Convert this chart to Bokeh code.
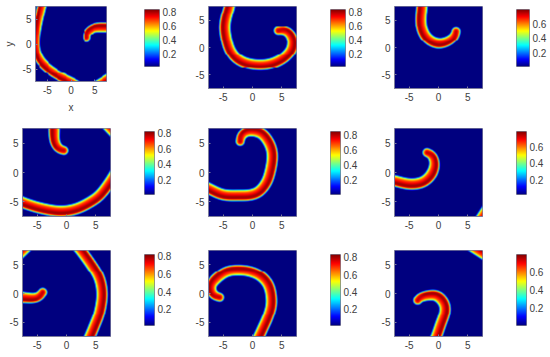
import numpy as np
from bokeh.plotting import figure
from bokeh.layouts import row, column
from bokeh.models import Range1d, LinearColorMapper, FixedTicker
from bokeh.embed import file_html
from bokeh.resources import INLINE

# Wave centrelines, tail to tip, front on the right of travel
P1_A_X = [-6.0, -6.2, -6.7, -7.2, -7.5, -6.9, -5.5, -3.1, -0.6, 1.0]
P1_A_Y = [8.5, 7.5, 5.4, 2.9, 0.0, -2.5, -4.3, -6.05, -7.3, -8.1]
P1_B_X = [3.7, 6.5, 9.3]
P1_B_Y = [-9.4, -7.7, -6.0]
P1_C_X = [8.9, 7.5, 5.4, 4.2, 3.3, 3.3]
P1_C_Y = [3.3, 3.3, 3.3, 2.9, 2.0, 1.2]
P2_A_X = [-3.8, -3.9, -4.6, -4.67, -3.9, -2.4, -0.15, 2.7, 5.1, 6.6, 6.9, 6.5, 5.5, 4.4]
P2_A_Y = [8.5, 7.5, 5.0, 2.8, -0.35, -2.2, -3.06, -3.06, -2.05, -0.5, 1.0, 2.3, 3.1, 3.06]
P3_A_X = [-2.8, -2.8, -3.0, -2.7, -1.7, 0.0, 1.7, 2.8, 3.0]
P3_A_Y = [8.5, 7.5, 5.0, 3.0, 1.5, 0.75, 1.2, 2.1, 2.9]
P4_A_X = [-2.1, -2.1, -2.05, -1.6, -0.9, -0.45]
P4_A_Y = [8.5, 7.5, 5.5, 4.4, 3.8, 3.75]
P4_B_X = [-8.5, -7.5, -4.5, -1.1, 1.8, 4.6, 6.0, 7.5, 8.5]
P4_B_Y = [-4.6, -5.1, -6.05, -6.6, -6.15, -4.7, -3.5, -1.45, 0.2]
P4_C_X = [9.4, 7.6, 5.8]
P4_C_Y = [5.5, 7.4, 9.3]
P5_A_X = [-8.5, -7.5, -5.0, -2.1, -0.5, 1.0, 2.2, 2.9, 3.4, 3.0, 1.6, -0.15, -1.3, -2.0, -2.1]
P5_A_Y = [-2.2, -2.7, -3.8, -3.9, -3.85, -3.35, -2.0, -0.3, 2.6, 4.7, 6.65, 7.1, 6.85, 6.1, 5.3]
P6_A_X = [-8.5, -7.5, -5.5, -3.95, -2.4, -1.1, -0.65, -1.1, -1.95]
P6_A_Y = [-1.2, -1.4, -1.9, -1.95, -1.5, -0.15, 1.55, 2.95, 3.4]
P6_B_X = [6.6, 7.7, 8.8]
P6_B_Y = [-8.9, -7.2, -5.5]
P7_A_X = [-8.5, -7.5, -5.6, -4.6, -4.05]
P7_A_Y = [-0.6, -0.65, -0.8, -0.5, 0.2]
P7_B_X = [3.3, 4.0, 4.9, 5.6, 6.08, 5.6, 4.3, 2.45, 1.7]
P7_B_Y = [-9.0, -7.5, -5.3, -3.4, -0.2, 2.65, 4.9, 7.5, 8.4]
P7_C_X = [-5.6, -7.45, -9.3]
P7_C_Y = [9.3, 7.5, 5.7]
P8_A_X = [0.4, 1.1, 1.85, 2.7, 3.25, 2.85, 1.55, -0.15, -2.1, -4.4, -6.4, -7.1, -6.7, -5.6]
P8_A_Y = [-8.9, -7.5, -5.85, -3.9, -1.6, 1.2, 2.9, 3.75, 4.05, 3.8, 2.35, 1.2, -0.2, -0.65]
P9_A_X = [-1.0, -0.35, 0.4, 1.1, 1.0, -0.25, -1.95, -3.3, -3.55]
P9_A_Y = [-8.9, -7.5, -5.3, -3.3, -1.75, -0.37, -0.37, -0.75, -1.15]
P9_B_X = [8.85, 6.9, 4.95]
P9_B_Y = [6.2, 7.45, 8.7]

# Colour bar ranges and ticks
CBAR_LOW = [0.012, 0.012, 0.018, 0.016, 0.015, 0.02, 0.016, 0.015, 0.01]
CBAR_HIGH = [0.84, 0.84, 0.79, 0.82, 0.84, 0.79, 0.82, 0.83, 0.80]
TICKS_LONG = [0.2, 0.4, 0.6, 0.8]
TICKS_SHORT = [0.2, 0.4, 0.6]
XY_TICKS = [-5, 0, 5]

# Wave cross-section: distance from centreline (front positive) vs share of the peak
PROFILE_D = [-1.15, -1.02, -0.92, -0.8, -0.5, -0.1, 0.3, 0.6, 0.78, 0.92, 1.02, 1.15]
PROFILE_V = [0.0, 0.08, 0.35, 0.58, 0.8, 0.9, 1.0, 0.95, 0.75, 0.4, 0.1, 0.0]
SYM_D = [-1.15, -1.02, -0.9, -0.7, -0.3, 0.0, 0.3, 0.7, 0.9, 1.02, 1.15]
SYM_V = [0.0, 0.08, 0.38, 0.74, 0.92, 0.96, 0.92, 0.74, 0.38, 0.08, 0.0]

PANELS = [
    [(P1_A_X, P1_A_Y), (P1_B_X, P1_B_Y), (P1_C_X, P1_C_Y)],
    [(P2_A_X, P2_A_Y)],
    [(P3_A_X, P3_A_Y)],
    [(P4_A_X, P4_A_Y), (P4_B_X, P4_B_Y), (P4_C_X, P4_C_Y)],
    [(P5_A_X, P5_A_Y)],
    [(P6_A_X, P6_A_Y), (P6_B_X, P6_B_Y)],
    [(P7_A_X, P7_A_Y), (P7_B_X, P7_B_Y), (P7_C_X, P7_C_Y)],
    [(P8_A_X, P8_A_Y)],
    [(P9_A_X, P9_A_Y), (P9_B_X, P9_B_Y)],
]

INK = "#404040"
EDGE = "#7c7c9c"
FONT = "Liberation Sans"


def jet():
    out = []
    for i in range(256):
        t = i / 255
        r = np.clip(min(4 * t - 1.5, -4 * t + 4.5), 0, 1)
        g = np.clip(min(4 * t - 0.5, -4 * t + 3.5), 0, 1)
        b = np.clip(min(4 * t + 0.5, -4 * t + 2.5), 0, 1)
        out.append("#%02x%02x%02x" % (int(r * 255), int(g * 255), int(b * 255)))
    return out


JET = jet()


def smooth(xs, ys, steps=8, sigma=0.55, ds=0.08):
    p = np.column_stack([xs, ys]).astype(float)
    p = np.vstack([2 * p[0] - p[1], p, 2 * p[-1] - p[-2]])
    out = [p[1]]
    for i in range(1, len(p) - 2):
        p0, p1, p2, p3 = p[i - 1], p[i], p[i + 1], p[i + 2]
        for s in np.linspace(0, 1, steps + 1)[1:]:
            out.append(0.5 * (2 * p1 + (p2 - p0) * s + (2 * p0 - 5 * p1 + 4 * p2 - p3) * s ** 2
                              + (3 * p1 - p0 - 3 * p2 + p3) * s ** 3))
    out = np.array(out)
    arc = np.concatenate([[0.0], np.cumsum(np.hypot(*np.diff(out, axis=0).T))])
    u = np.arange(0, arc[-1], ds)
    u = np.append(u, arc[-1])
    res = np.column_stack([np.interp(u, arc, out[:, 0]), np.interp(u, arc, out[:, 1])])
    m = int(3 * sigma / ds)
    kern = np.exp(-0.5 * (np.arange(-m, m + 1) * ds / sigma) ** 2)
    kern /= kern.sum()
    pad_a = 2 * res[0] - res[1:m + 1][::-1]
    pad_b = 2 * res[-1] - res[-m - 1:-1][::-1]
    full = np.vstack([pad_a, res, pad_b])
    return np.column_stack([np.convolve(full[:, j], kern, mode="valid") for j in (0, 1)])


def curve_field(xs, ys, gx, gy):
    tipped = abs(xs[-1]) < 7.5 and abs(ys[-1]) < 7.5
    pts = smooth(xs, ys)
    a, b = pts[:-1], pts[1:]
    seg = b - a
    ln = np.maximum(np.hypot(seg[:, 0], seg[:, 1]), 1e-6)
    remain = np.concatenate([np.cumsum(ln[::-1])[::-1][1:], [0.0]])
    best = np.full(gx.shape, np.inf)
    sign = np.zeros(gx.shape)
    s_tip = np.zeros(gx.shape)
    past = np.zeros(gx.shape, dtype=bool)
    for k in range(len(a)):
        px, py = gx - a[k, 0], gy - a[k, 1]
        t = (px * seg[k, 0] + py * seg[k, 1]) / ln[k] ** 2
        tc = np.clip(t, 0, 1)
        dist = np.hypot(px - tc * seg[k, 0], py - tc * seg[k, 1])
        hit = dist < best
        best[hit] = dist[hit]
        cross = seg[k, 0] * py - seg[k, 1] * px
        sign[hit] = np.where(cross[hit] > 0, -1.0, 1.0)
        s_tip[hit] = remain[k] + (1 - tc[hit]) * ln[k]
        past[hit] = (k == len(a) - 1) & (t[hit] > 1)
    d = best * sign
    if tipped:
        taper = 0.8 + 0.2 * np.minimum(1, s_tip / 4)
        w = np.where(past, 1.0, np.clip(1 - s_tip / 1.5, 0, 1))
        d = d / taper
        return (1 - w) * np.interp(d, PROFILE_D, PROFILE_V) + w * np.interp(d, SYM_D, SYM_V)
    return np.interp(d, PROFILE_D, PROFILE_V)


def panel_field(curves, low, high, n):
    step = 15 / n
    c = np.linspace(-7.5 + step / 4, 7.5 - step / 4, 2 * n)
    gx, gy = np.meshgrid(c, c)
    f = np.zeros(gx.shape)
    for xs, ys in curves:
        f = np.maximum(f, curve_field(xs, ys, gx, gy))
    f = f.reshape(n, 2, n, 2).mean(axis=(1, 3))
    return low + f * (high - low) * 0.98 - 0.02 * (f == 0)


def style_axis(ax):
    ax.axis_line_color = EDGE
    ax.major_tick_line_color = EDGE
    ax.major_tick_in = 2
    ax.major_tick_out = 0
    ax.minor_tick_line_color = None
    ax.major_label_text_color = INK
    ax.major_label_text_font = FONT
    ax.major_label_text_font_size = "10px"


def heat(i, w, h, left, top, fw, mx=0, labels=False):
    low, high = CBAR_LOW[i], CBAR_HIGH[i]
    p = figure(width=w, height=h, min_border_left=left, min_border_right=w - left - fw,
               min_border_top=top, min_border_bottom=h - top - fw,
               x_range=Range1d(-7.5, 7.5), y_range=Range1d(-7.5, 7.5),
               output_backend="svg", toolbar_location=None, margin=(0, 0, 0, mx))
    mapper = LinearColorMapper(palette=JET, low=low, high=high, low_color=JET[0], high_color=JET[-1])
    p.image(image=[panel_field(PANELS[i], low, high, fw)], x=-7.5, y=-7.5, dw=15, dh=15, color_mapper=mapper)
    p.grid.visible = False
    p.outline_line_color = EDGE
    for ax in (p.xaxis[0], p.yaxis[0]):
        style_axis(ax)
        ax.ticker = FixedTicker(ticks=XY_TICKS)
        ax.major_label_overrides = {-5: "-5", 0: "0", 5: "5"}
        ax.major_label_standoff = 4
    if labels:
        p.xaxis[0].axis_label = "x"
        p.yaxis[0].axis_label = "y"
        for ax in (p.xaxis[0], p.yaxis[0]):
            ax.axis_label_text_color = INK
            ax.axis_label_text_font = FONT
            ax.axis_label_text_font_size = "10px"
            ax.axis_label_text_font_style = "normal"
            ax.axis_label_standoff = 5
    return p


def cbar(i, w, left, fw, my=3):
    low, high = CBAR_LOW[i], CBAR_HIGH[i]
    fh, top, bottom = 71, 6, 20
    p = figure(width=w, height=fh + top + bottom, min_border_left=left, min_border_right=w - left - fw,
               min_border_top=top, min_border_bottom=bottom,
               x_range=Range1d(0, 1), y_range=Range1d(low, high),
               y_axis_location="right", output_backend="svg", toolbar_location=None,
               margin=(my, 0, 0, 0))
    mapper = LinearColorMapper(palette=JET, low=low, high=high)
    grad = np.linspace(low, high, 256).reshape(256, 1)
    p.image(image=[grad], x=0, y=low, dw=1, dh=high - low, color_mapper=mapper)
    p.grid.visible = False
    p.xaxis.visible = False
    p.outline_line_color = "#808090"
    ax = p.yaxis[0]
    style_axis(ax)
    ticks = TICKS_LONG if high > 0.81 else TICKS_SHORT
    ax.ticker = FixedTicker(ticks=ticks)
    ax.major_label_overrides = {t: "%.1f" % t for t in ticks}
    ax.major_label_standoff = 3
    ax.major_tick_in = 0
    ax.axis_line_color = None
    return p


row1 = row(heat(0, 129, 115, 27, 6, 79, labels=True), cbar(0, 60, 15, 15),
           heat(1, 130, 122, 19, 6, 88), cbar(1, 55, 11, 15),
           heat(2, 130, 122, 20, 6, 88), cbar(2, 45, 12, 15), spacing=0)
row2 = row(heat(3, 125, 122, 17, 6, 88, mx=5), cbar(3, 60, 14, 10),
           heat(4, 130, 122, 18, 6, 88), cbar(4, 55, 10, 10),
           heat(5, 130, 122, 19, 6, 88), cbar(5, 45, 11, 10), spacing=0)
row3 = row(heat(6, 125, 112, 17, 5, 88, mx=5), cbar(6, 60, 14, 10, my=4),
           heat(7, 130, 112, 18, 5, 88), cbar(7, 55, 10, 10, my=4),
           heat(8, 130, 112, 19, 5, 88), cbar(8, 45, 11, 10, my=4), spacing=0)
page = column(row1, row2, row3, spacing=0)

open("out.html", "w").write(file_html(page, INLINE))
